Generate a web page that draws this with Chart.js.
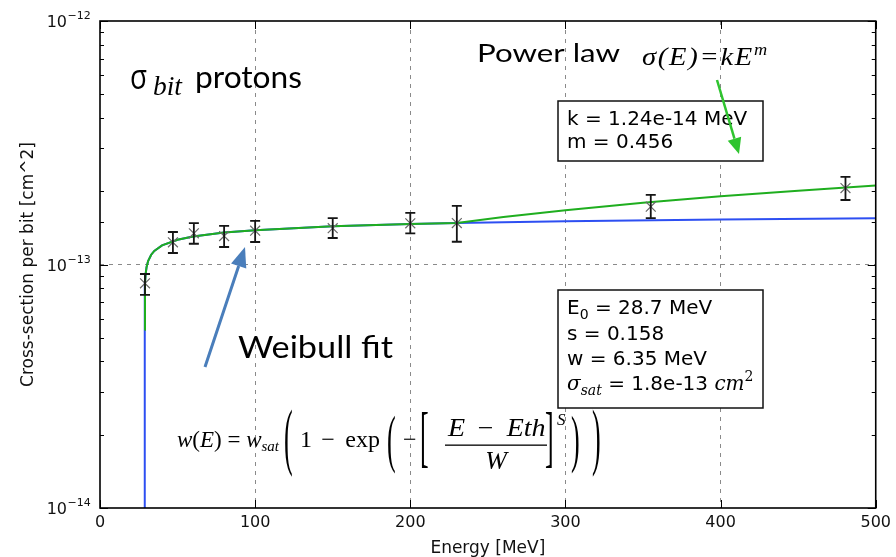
<!DOCTYPE html>
<html>
<head>
<meta charset="utf-8">
<script src="https://cdn.jsdelivr.net/npm/chart.js@4.4.1/dist/chart.umd.min.js"></script>
<style>
html,body{margin:0;padding:0;background:#fff;}
#wrap{width:896px;height:557px;position:relative;}
</style>
</head>
<body>
<div id="wrap"><canvas id="c" width="896" height="557"></canvas></div>
<script>
// ---- data ----
const energy   = [29, 47, 60.5, 80, 100, 150, 200, 230, 355, 480.5];            // MeV
const sigma    = [0.837e-13, 1.234e-13, 1.343e-13, 1.309e-13, 1.377e-13, 1.41e-13, 1.476e-13, 1.48e-13, 1.727e-13, 2.06e-13];
const errLow   = [0.75e-13, 1.115e-13, 1.217e-13, 1.18e-13, 1.237e-13, 1.285e-13, 1.343e-13, 1.24e-13, 1.55e-13, 1.84e-13];
const errHigh  = [0.914e-13, 1.36e-13, 1.48e-13, 1.44e-13, 1.51e-13, 1.55e-13, 1.63e-13, 1.74e-13, 1.93e-13, 2.29e-13];

const weibullE = [28.7, 28.7, 29, 29.5, 30, 31, 33, 35, 40, 50, 60, 80, 100, 150, 200, 230, 300, 400, 500];
const weibullS = [1e-14, 0.54e-13, 0.83e-13, 0.925e-13, 0.974e-13, 1.032e-13, 1.097e-13, 1.137e-13, 1.198e-13, 1.264e-13, 1.303e-13, 1.352e-13, 1.384e-13, 1.435e-13, 1.465e-13, 1.48e-13, 1.505e-13, 1.53e-13, 1.55e-13];

const fitE = [28.7, 29, 29.5, 30, 31, 33, 35, 40, 50, 60, 80, 100, 150, 200, 230, 260, 300, 350, 400, 450, 500];
const fitS = [0.54e-13, 0.83e-13, 0.925e-13, 0.974e-13, 1.032e-13, 1.097e-13, 1.137e-13, 1.198e-13, 1.264e-13, 1.303e-13, 1.352e-13, 1.384e-13, 1.435e-13, 1.465e-13, 1.48e-13, 1.566e-13, 1.67e-13, 1.793e-13, 1.905e-13, 2.01e-13, 2.11e-13];

const xTicks = [0, 100, 200, 300, 400, 500];
const yDecades = [-14, -13, -12];
const yTickBase = '10';
const yTickExp = ['\u221214', '\u221213', '\u221212'];

const toXY = (xs, ys) => xs.map((x, i) => ({x: x, y: ys[i]}));
const isDecade = v => Math.abs(Math.log10(v) - Math.round(Math.log10(v))) < 1e-6;

// ---- plugins ----
const errorBars = {
  id: 'errorBars',
  afterDatasetsDraw(chart) {
    const ctx = chart.ctx, xs = chart.scales.x, ys = chart.scales.y;
    ctx.save();
    ctx.strokeStyle = '#151515';
    ctx.lineWidth = 1.8;
    energy.forEach((e, i) => {
      const px = xs.getPixelForValue(e);
      const y1 = ys.getPixelForValue(errLow[i]);
      const y2 = ys.getPixelForValue(errHigh[i]);
      ctx.beginPath();
      ctx.moveTo(px, y1); ctx.lineTo(px, y2);
      ctx.moveTo(px - 5, y1); ctx.lineTo(px + 5, y1);
      ctx.moveTo(px - 5, y2); ctx.lineTo(px + 5, y2);
      ctx.stroke();
    });
    ctx.restore();
  }
};

function fitText(ctx, str, x, y, font, width) {
  ctx.font = font;
  const w = ctx.measureText(str).width;
  ctx.save();
  ctx.translate(x, y);
  ctx.scale(width ? width / w : 1, 1);
  ctx.fillText(str, 0, 0);
  ctx.restore();
}
function runs(ctx, x, y, list) {
  list.forEach(r => {
    ctx.font = r.f;
    ctx.fillText(r.t, x, y + (r.dy || 0));
    x += ctx.measureText(r.t).width + (r.gap || 0);
  });
  return x;
}
// lay pieces out (ink-to-ink) with equal gaps so they span x0..x1
function spread(ctx, pieces, x0, x1, y) {
  const ms = pieces.map(p => { ctx.font = p.f; const m = ctx.measureText(p.t);
    return {l: m.actualBoundingBoxLeft, w: m.actualBoundingBoxLeft + m.actualBoundingBoxRight}; });
  const tot = ms.reduce((s, m) => s + m.w, 0);
  const gap = pieces.length > 1 ? (x1 - x0 - tot) / (pieces.length - 1) : 0;
  let x = x0;
  pieces.forEach((p, i) => {
    ctx.font = p.f;
    ctx.fillText(p.t, x + ms[i].l, y);
    x += ms[i].w + gap;
  });
}
// stretch a delimiter glyph so its ink spans [top, bottom], left ink edge at x
function bigGlyph(ctx, ch, x, top, bottom, font) {
  ctx.save();
  ctx.font = font;
  ctx.textBaseline = 'alphabetic';
  ctx.textAlign = 'left';
  const m = ctx.measureText(ch);
  const asc = m.actualBoundingBoxAscent, desc = m.actualBoundingBoxDescent;
  const s = (bottom - top) / (asc + desc);
  ctx.translate(x + m.actualBoundingBoxLeft, top);
  ctx.scale(1, s);
  ctx.fillText(ch, 0, asc);
  ctx.restore();
}
function arrow(ctx, x1, y1, x2, y2, color, lw, hl, hw) {
  const ang = Math.atan2(y2 - y1, x2 - x1);
  const bx = x2 - hl * Math.cos(ang), by = y2 - hl * Math.sin(ang);
  ctx.save();
  ctx.strokeStyle = color; ctx.fillStyle = color; ctx.lineWidth = lw;
  ctx.beginPath(); ctx.moveTo(x1, y1); ctx.lineTo(bx, by); ctx.stroke();
  ctx.beginPath();
  ctx.moveTo(x2, y2);
  ctx.lineTo(bx + hw * Math.sin(ang), by - hw * Math.cos(ang));
  ctx.lineTo(bx - hw * Math.sin(ang), by + hw * Math.cos(ang));
  ctx.closePath(); ctx.fill();
  ctx.restore();
}

const decor = {
  id: 'decor',
  beforeDatasetsDraw(chart) {
    const ctx = chart.ctx;
    ctx.save();
    ctx.fillStyle = '#fff';
    ctx.strokeStyle = '#111';
    ctx.lineWidth = 1.5;
    ctx.fillRect(558, 101, 205, 60); ctx.strokeRect(558, 101, 205, 60);
    ctx.fillRect(558, 290, 205, 118); ctx.strokeRect(558, 290, 205, 118);
    ctx.restore();
  },
  afterDraw(chart) {
    const ctx = chart.ctx, a = chart.chartArea, ys = chart.scales.y, xs = chart.scales.x;
    ctx.save();
    // inward tick marks
    ctx.strokeStyle = '#000'; ctx.lineWidth = 1;
    ys.ticks.forEach(t => {
      const py = Math.round(ys.getPixelForValue(t.value)) + 0.5;
      const len = isDecade(t.value) ? 8 : 4;
      ctx.beginPath();
      ctx.moveTo(a.left, py); ctx.lineTo(a.left + len, py);
      ctx.moveTo(a.right, py); ctx.lineTo(a.right - len, py);
      ctx.stroke();
    });
    xTicks.forEach(v => {
      const px = Math.round(xs.getPixelForValue(v)) + 0.5;
      ctx.beginPath();
      ctx.moveTo(px, a.bottom); ctx.lineTo(px, a.bottom - 8);
      ctx.moveTo(px, a.top); ctx.lineTo(px, a.top + 8);
      ctx.stroke();
    });
    // frame
    ctx.lineWidth = 1.6;
    ctx.strokeRect(a.left, a.top, a.right - a.left, a.bottom - a.top);

    ctx.fillStyle = '#111';
    ctx.textBaseline = 'alphabetic';
    // y tick labels (10 with superscript exponent)
    yDecades.forEach((d, i) => {
      const py = ys.getPixelForValue(Math.pow(10, d));
      ctx.textAlign = 'right';
      ctx.font = '16px "DejaVu Sans"';
      ctx.fillText(yTickBase, 67, py + 6);
      ctx.textAlign = 'left';
      ctx.font = '11px "DejaVu Sans"';
      ctx.fillText(yTickExp[i], 67.5, py - 2);
    });

    ctx.fillStyle = '#000';
    ctx.textAlign = 'left';

    // slide annotations
    fitText(ctx, '\u03C3', 130, 89, '34px "Open Sans"', 17);
    fitText(ctx, 'bit', 153, 95, 'italic 28px "Liberation Serif"', 29);
    fitText(ctx, 'protons', 195, 88, '31px Lato', 107);
    fitText(ctx, 'Power law', 477, 62, '25px Lato', 143);
    ctx.save();
    ctx.letterSpacing = '1.5px';
    ctx.translate(642, 65);
    ctx.font = 'italic 25px "Liberation Serif"';
    const mainW = ctx.measureText('\u03C3(E)=kE').width;
    ctx.font = 'italic 16px "Liberation Serif"';
    const supW = ctx.measureText('m').width;
    ctx.scale(Math.min(1.3, 128 / (mainW + supW + 1)), 1);
    runs(ctx, 0, 0, [
      {t: '\u03C3(E)=kE', f: 'italic 25px "Liberation Serif"'},
      {t: 'm', f: 'italic 16px "Liberation Serif"', dy: -10}
    ]);
    ctx.restore();
    fitText(ctx, 'Weibull fit', 238, 358, '31px Lato', 155);

    // fit parameter boxes
    const sans = '20px "DejaVu Sans"', sub = '14px "DejaVu Sans"';
    const it = 'italic 20px "DejaVu Serif"', itS = 'italic 14px "DejaVu Serif"';
    runs(ctx, 567, 125, [{t: 'k = 1.24e-14 MeV', f: sans}]);
    runs(ctx, 567, 148, [{t: 'm = 0.456', f: sans}]);
    runs(ctx, 567, 314, [{t: 'E', f: sans}, {t: '0', f: sub, dy: 5}, {t: ' = 28.7 MeV', f: sans}]);
    runs(ctx, 567, 340, [{t: 's = 0.158', f: sans}]);
    runs(ctx, 567, 365, [{t: 'w = 6.35 MeV', f: sans}]);
    runs(ctx, 567, 390, [{t: '\u03C3', f: it}, {t: 'sat', f: itS, dy: 5}, {t: ' = 1.8e-13 ', f: sans},
                         {t: 'cm', f: it}, {t: '2', f: '14px "DejaVu Serif"', dy: -9}]);

    // Weibull formula (LaTeX-like)
    const fam = '"Liberation Serif"';
    const se = '23px ' + fam, si = 'italic 23px ' + fam;
    const base = 447;
    runs(ctx, 177, base, [{t: 'w', f: si}, {t: '(', f: se}, {t: 'E', f: si}, {t: ')', f: se}, {t: ' = ', f: se},
                          {t: 'w', f: si}, {t: 'sat', f: 'italic 15px ' + fam, dy: 4}]);
    const delim = '26px ' + fam;
    bigGlyph(ctx, '(', 285, 410, 478, delim);
    spread(ctx, [{t: '1', f: '24px ' + fam}, {t: '\u2212', f: '24px ' + fam}, {t: 'exp', f: '24px ' + fam}], 302, 380, base);
    bigGlyph(ctx, '(', 388, 416, 475, delim);
    spread(ctx, [{t: '\u2212', f: '24px ' + fam}], 404, 417, base);
    bigGlyph(ctx, '[', 421, 415, 469, delim);
    // numerator E − Eth
    ctx.save();
    ctx.translate(447, 0); ctx.scale(1.12, 1); ctx.translate(-447, 0);
    spread(ctx, [{t: 'E', f: 'italic 25px ' + fam}, {t: '\u2212', f: '25px ' + fam}, {t: 'Eth', f: 'italic 25px ' + fam}],
           447, 447 + 98 / 1.12, 436);
    ctx.restore();
    ctx.fillRect(445, 444.5, 102, 1.3);
    ctx.textAlign = 'center';
    ctx.font = 'italic 26px ' + fam; ctx.fillText('W', 496, 469);
    ctx.textAlign = 'left';
    bigGlyph(ctx, ']', 545, 415, 469, delim);
    runs(ctx, 557, 425, [{t: 'S', f: 'italic 17px ' + fam}]);
    bigGlyph(ctx, ')', 571, 416, 475, delim);
    bigGlyph(ctx, ')', 592, 410, 478, delim);

    // arrows
    arrow(ctx, 717, 80, 739, 154, '#2fc42f', 2.5, 16, 7);
    arrow(ctx, 205, 367, 245, 247, '#4a7ebb', 3, 20, 8);
    ctx.restore();
  }
};

const gridDash = [4, 5];

new Chart(document.getElementById('c'), {
  type: 'scatter',
  data: {
    datasets: [
      {
        label: 'data',
        data: toXY(energy, sigma),
        pointStyle: 'crossRot',
        pointRadius: 7,
        pointBorderColor: '#6a6a6a',
        pointBorderWidth: 1.2,
        showLine: false,
        order: 0
      },
      {
        label: 'power law',
        data: toXY(fitE, fitS),
        showLine: true,
        borderColor: '#1fae1f',
        borderWidth: 2,
        pointRadius: 0,
        tension: 0,
        order: 1
      },
      {
        label: 'weibull',
        data: toXY(weibullE, weibullS),
        showLine: true,
        borderColor: '#2d4ff2',
        borderWidth: 2,
        pointRadius: 0,
        tension: 0,
        order: 2
      }
    ]
  },
  options: {
    responsive: false,
    animation: false,
    events: [],
    layout: {padding: {left: 0, right: 19, top: 21, bottom: 0}},
    plugins: {legend: {display: false}, tooltip: {enabled: false}},
    scales: {
      x: {
        type: 'linear', min: 0, max: 500,
        afterBuildTicks: s => { s.ticks = xTicks.map(v => ({value: v})); },
        afterFit: s => { s.height = 49; },
        ticks: {font: {family: 'DejaVu Sans', size: 16}, color: '#111', padding: 5},
        grid: {
          drawTicks: false, lineWidth: 1,
          color: c => (c.tick && c.tick.value > 0 && c.tick.value < 500) ? '#8a8a8a' : 'rgba(0,0,0,0)'
        },
        border: {display: false, dash: gridDash},
        title: {display: true, text: 'Energy [MeV]', font: {family: 'DejaVu Sans', size: 17}, color: '#111', padding: {top: 0, bottom: -2}}
      },
      y: {
        type: 'logarithmic', min: 1e-14, max: 1e-12,
        afterFit: s => { s.width = 100; },
        ticks: {
          autoSkip: false,
          font: {family: 'DejaVu Sans', size: 16}, color: '#111', padding: 5,
          callback: () => ''
        },
        grid: {
          drawTicks: false, lineWidth: 1,
          color: c => (c.tick && isDecade(c.tick.value) && Math.round(Math.log10(c.tick.value)) === -13) ? '#8a8a8a' : 'rgba(0,0,0,0)'
        },
        border: {display: false, dash: gridDash},
        title: {display: true, text: 'Cross-section per bit [cm^2]', font: {family: 'DejaVu Sans', size: 17}, color: '#111', padding: {top: 18, bottom: 0}}
      }
    }
  },
  plugins: [errorBars, decor]
});
</script>
</body>
</html>
